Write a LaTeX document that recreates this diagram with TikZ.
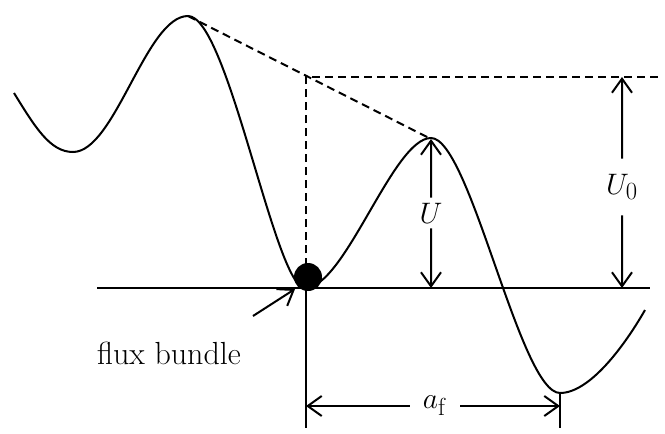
\documentclass[tikz,border=0pt]{standalone}
\usepackage{amsmath}
\usetikzlibrary{positioning,arrows.meta}

\begin{document}
\begin{tikzpicture}[x=1pt,y=-1pt, line width=2pt, line cap=butt,
    every node/.style={font=\Huge, scale=1.19},
    dimarrow/.style={-{Straight Barb[length=14pt,width=20pt]}},
    guide/.style={dash pattern=on 8pt off 5pt}]
  \useasboundingbox (0,0) rectangle (665,434);
  % potential profile
  \draw (14,93) .. controls (35,127) and (50,152) .. (73,152)
    .. controls (115,152) and (146,16) .. (188,16)
    .. controls (228,16) and (275,288) .. (305,288)
    .. controls (345,288) and (393,138) .. (431,138)
    .. controls (470,138) and (520,393) .. (560,393)
    .. controls (590,393) and (625,345) .. (645,310);
  \draw (97,288) -- (650,288);
  \coordinate (peakA) at (188,16);
  \coordinate (peakB) at (431,139);
  \coordinate (corner) at (306,77);
  \coordinate (baseU) at (431,288);
  \coordinate (topU) at (622,77);
  \coordinate (baseUzero) at (622,288);
  \coordinate (wellL) at (306,406);
  \coordinate (wellR) at (560,406);
  \fill (308,277) circle (14);
  % guide lines
  \draw[guide] (peakA) -- (peakB);
  \draw[guide] (306,266) -- (corner) -- (660,77);
  \draw (306,288) -- (306,428);
  \draw (560,393) -- (560,428);
  % labels
  \node (ulabel) at (431,213) {$U$};
  \node[inner ysep=12pt] (uzero) at (622,187) {$U_0$};
  \node[inner xsep=10pt] (aflabel) at (435,406) {$a_{\mathrm{f}}$};
  \node[scale=1.08] (flux) at (169,353) {flux bundle};
  \coordinate (fluxtail) at (253,316);
  \coordinate (ball) at (295,289);
  \foreach \a/\b in {ulabel/peakB,ulabel/baseU,uzero/topU,uzero/baseUzero,aflabel/wellL,aflabel/wellR,fluxtail/ball}
    \draw[dimarrow] (\a) -- (\b);
\end{tikzpicture}
\end{document}
